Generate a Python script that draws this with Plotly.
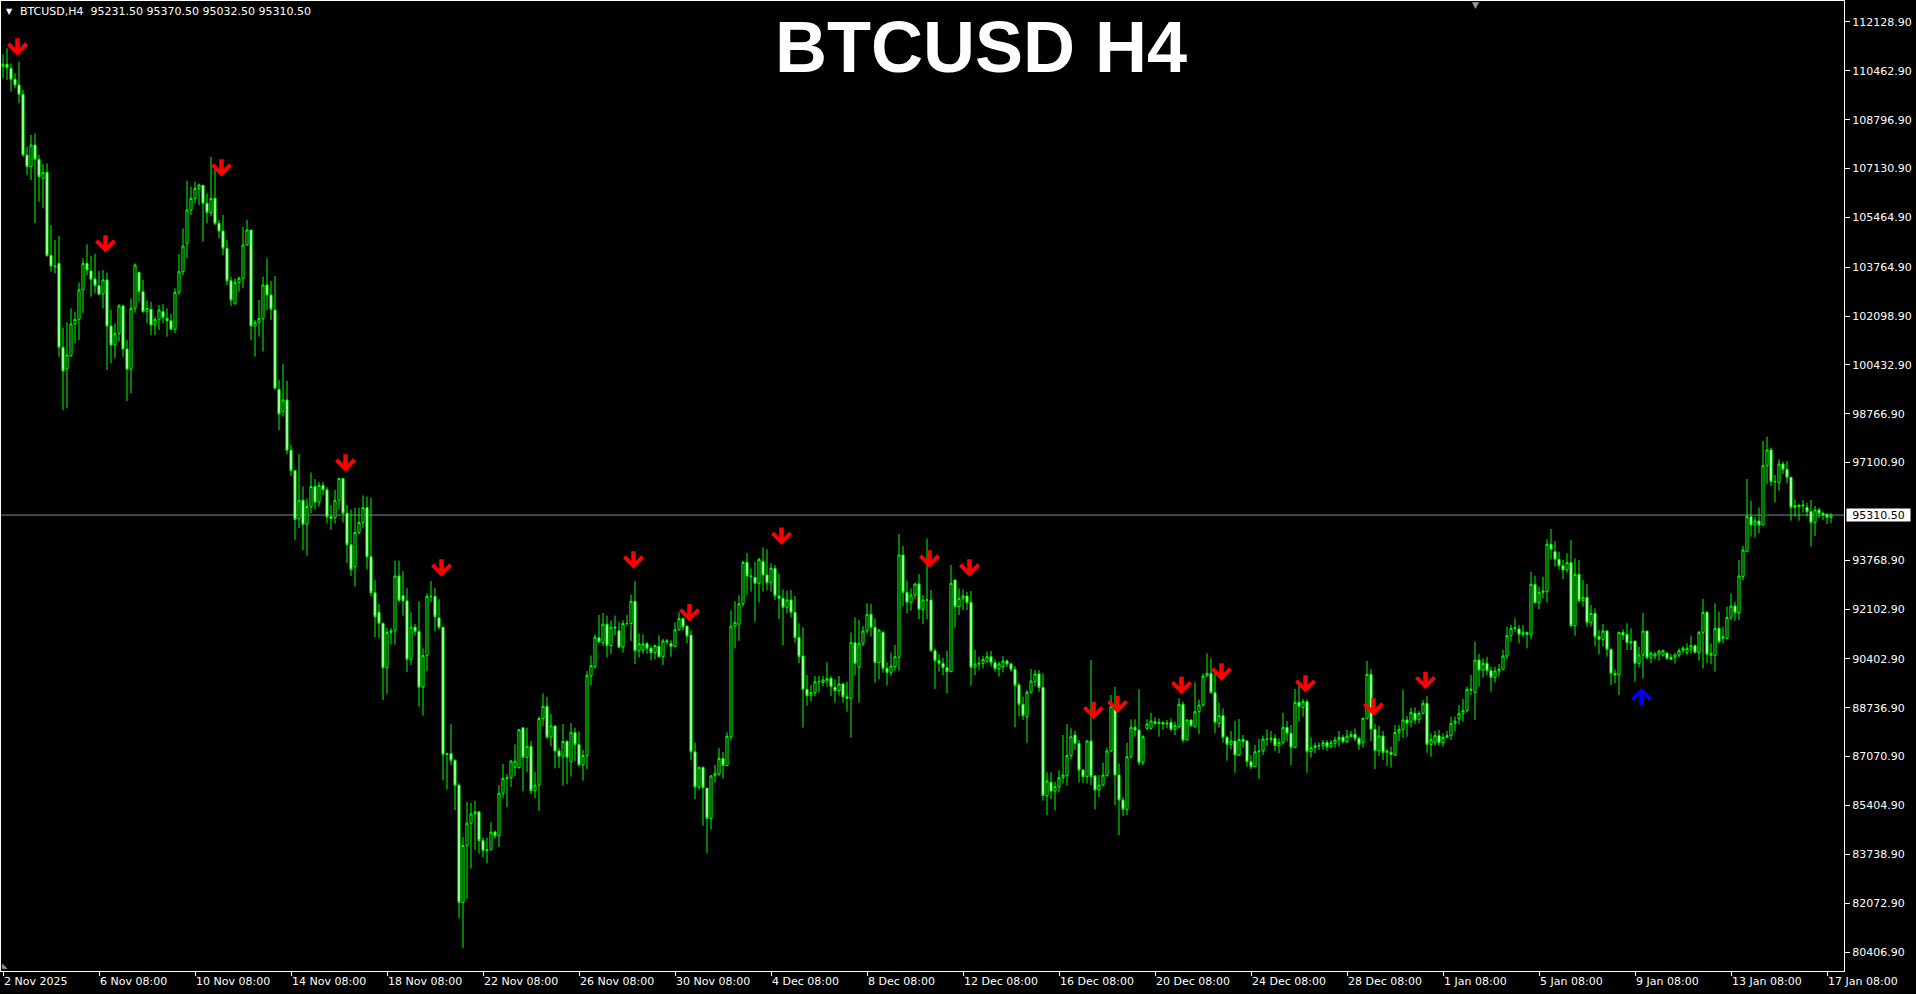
import plotly.graph_objects as go

# ---------------- data (H4 bars, 2 Nov 2025 08:00 -> 17 Jan 2026 12:00) ----------------
OPEN = [
    110605,110685,110548,110173,109980,109662,107592,107194,107934,107445,
    106796,107001,104170,103806,103897,101032,100316,100748,101828,101987,
    102988,103897,103636,103363,103135,102851,103329,101759,101111,101509,
    102442,100975,100282,102362,103590,102930,102248,102328,101794,101987,
    102248,102021,101941,101646,102908,103613,104579,105716,106114,106455,
    106558,105944,105626,106114,105261,105000,104409,103306,102533,103249,
    103386,104522,105034,101759,101885,102021,103158,102817,102305,99599,
    98837,99235,97520,96826,95186,95817,94996,95602,96284,95754,
    96322,96170,95249,95224,95817,96561,95375,94302,93545,94719,
    95059,95564,93886,92661,91993,91614,90100,91311,91362,93230,
    92560,92384,90390,91488,91337,89443,90516,92535,92535,91803,
    91488,87147,87172,86945,86099,82098,84042,84800,85115,85190,
    84206,83866,83890,84496,84370,85822,86326,86351,86706,86694,
    88055,87046,87424,85910,86099,88371,88787,87740,88118,87260,
    87084,87588,86894,87891,87487,86793,87109,89822,90137,91122,
    90958,91589,90857,91488,91362,90806,91614,91614,92371,90680,
    90705,90920,90768,90617,90832,90478,91021,90933,90832,91400,
    91778,91526,91210,87235,86036,86705,85998,84963,86414,86478,
    87008,86768,87740,91526,91589,92283,93697,93230,93186,92982,
    93721,93266,93004,93493,92550,92470,92163,92413,91993,91140,
    90503,89366,89150,89252,89627,89593,89650,89741,89434,89320,
    89548,89116,89059,90958,90117,90935,91356,91924,91481,90276,
    91310,90082,89946,90139,90458,93948,92675,92334,92584,92959,
    92095,92413,92413,90685,90344,90253,90105,89969,93095,92186,
    92447,92550,92334,90117,90230,90253,90310,90480,90276,90071,
    90139,90333,90230,90048,89514,88855,88434,89264,89628,89889,
    89434,85739,86194,85898,86046,86353,86421,87103,87808,87524,
    86615,86387,87604,86410,85932,86103,86421,87262,88741,86444,
    85591,85273,87069,88070,87979,86876,88036,88036,88263,88206,
    88240,88184,88240,88002,88093,88855,87638,88320,88093,88604,
    88832,89821,89912,89252,88206,88468,87729,87490,87604,87126,
    87660,87604,86899,86728,87240,87262,87672,87660,87695,87444,
    87558,88070,87865,87388,88923,88752,88946,87240,87376,87444,
    87444,87547,87410,87524,87638,87729,87581,87752,87831,87695,
    87547,88377,89878,88002,87274,87774,87217,87217,87126,87899,
    88002,88320,88263,88548,88343,88548,88889,87490,87547,87786,
    87547,87729,87786,88206,88354,88548,88639,89366,89264,90367,
    90026,90253,90003,89776,89992,90048,90503,91197,91447,91424,
    91242,91310,91242,92948,92322,92675,92697,94312,94062,93800,
    93584,93437,93687,91538,93289,92391,92504,91651,91958,91163,
    91072,91356,90730,89912,89855,91310,91242,90958,91015,90253,
    90537,91356,90446,90503,90571,90537,90594,90458,90458,90537,
    90685,90628,90730,90855,90628,91310,91992,90526,90526,91447,
    91106,91106,91822,92209,91981,93209,94062,95256,94972,95108,
    94972,96995,97530,96450,96427,97052,96870,96597,95574,95597,
    95654,95574,95427,95062,95483,95370,95336,95231.5,
]
HIGH = [
    111037,111231,110719,110378,110776,109809,107877,108274,108331,107592,
    107285,107308,105205,104693,104830,101703,101885,102362,102248,103249,
    104068,104545,104147,104215,103636,103670,103579,102305,101850,102510,
    102476,101282,102703,103897,103613,103329,102623,102589,102078,102476,
    102510,102362,102169,103044,104215,105091,106717,106512,106683,106626,
    106569,106285,107535,107081,105375,105546,104693,103442,103386,103442,
    105148,105375,105034,101964,102646,103442,104068,103306,103465,99918,
    100464,99883,97710,96826,97394,96284,95880,96763,96536,96440,
    96440,96258,95652,96170,96574,96574,95652,95501,95564,95564,
    95980,95943,95900,93103,92283,91652,91463,91463,93760,93760,
    93394,92813,91993,91600,92371,90768,92636,93065,92826,92434,
    91488,87172,88181,86983,86162,84332,85531,85493,85569,85190,
    84307,84307,84837,84547,86100,86818,86477,86950,87487,88017,
    88055,88055,87614,86540,88434,89229,89103,88522,88118,87361,
    88181,87651,88220,88055,87929,87298,89986,90516,91236,91904,
    91967,91879,91715,91879,91652,91715,91904,92598,93065,91273,
    91236,90983,90857,90895,91210,91084,91084,91046,91652,91993,
    91816,91526,91374,87550,86730,86730,85998,86440,86793,87361,
    87235,87904,92068,92371,92573,93750,94012,93493,93721,93850,
    94210,94141,93664,93607,93300,92777,92732,92754,92550,91617,
    91481,89855,89514,89821,89821,89821,90287,89821,89707,89821,
    89593,89628,91310,91822,91731,91526,92300,92277,91788,91420,
    91350,90287,90617,90878,94664,94255,93073,92811,93004,93300,
    92584,94517,92754,90764,90560,90446,90674,93607,93118,92811,
    92777,92697,92720,90708,90480,90503,90651,90674,90389,90310,
    90503,90389,90276,90162,89594,89116,89343,90060,90025,90025,
    89912,86535,86535,86217,86615,87808,88184,88036,87956,87638,
    86637,87638,90367,86444,86444,86865,87376,89173,89457,86842,
    85682,87547,88343,88343,89366,87800,88343,88570,88411,88377,
    88263,88320,88377,88263,89059,88946,88343,88340,89605,89025,
    89912,90594,90424,89912,88923,88718,87774,87945,88286,88354,
    87808,87638,87126,87467,87672,87786,88002,87945,87831,87695,
    88570,88286,88150,89377,89514,89036,89025,87729,87547,87547,
    87638,87638,87638,87752,87945,87808,87979,87945,88036,87752,
    88411,90332,90060,88184,88116,87945,87320,87410,88150,88150,
    89343,88456,88741,88752,88639,89002,89139,87865,87945,87979,
    87865,87945,88434,88434,88832,89036,89457,89855,90992,90571,
    90424,90480,90139,90139,90230,90708,91504,91561,91788,91561,
    91561,91310,93380,93243,92868,93209,94483,94835,94426,94062,
    93778,94005,94460,93834,93778,93095,92959,92243,92129,91390,
    91595,91390,90764,90048,91333,91413,91617,91447,91015,90822,
    91981,91356,90651,90651,90708,90730,90651,90571,90617,90764,
    90844,90935,91197,90901,91356,92447,92038,90935,92300,92015,
    91504,92186,92641,92357,93778,94255,96541,95802,95256,95574,
    97837,97985,97609,96677,97211,97132,97155,96620,95847,95654,
    95824,95733,95824,95620,95563,95427,95370,95370.5,
]
LOW = [
    110207,110151,109753,109866,109355,107535,106910,106740,105261,106000,
    105773,104125,103613,103556,100714,98894,98951,100714,101168,101282,
    102192,103499,102760,102874,102817,102362,100259,100486,100657,101225,
    100714,99201,99463,102214,102589,102214,101850,101452,101452,101623,
    101850,101396,101623,101509,102817,103499,104068,105546,105944,105887,
    104636,105261,105500,105205,104750,104181,103158,102442,102476,102931,
    103044,104488,101282,100714,101396,100884,102305,101964,99599,98212,
    98667,97394,96637,94466,94870,94113,93924,95375,95501,95600,
    95990,95022,94807,95022,95501,95060,93671,93230,92876,94650,
    94870,93457,92535,91147,91110,89002,89216,90895,90895,92346,
    91879,89948,90201,91200,88775,88472,89986,92346,91337,91400,
    86263,85948,86793,85241,81555,80547,82225,83260,83891,83764,
    83638,83430,83890,84270,83992,85670,85342,86036,86414,86667,
    85884,86540,85784,85658,85216,88118,87677,87424,86667,86692,
    86074,86130,86390,86919,86730,86251,86641,89506,90075,90958,
    90832,90453,90580,91210,90768,90617,91526,91021,90226,90453,
    90579,90579,90352,90390,90453,90201,90895,90478,90800,91380,
    91375,90932,86957,85620,85935,84710,83790,84584,86188,86414,
    86314,86755,87614,90768,91021,92195,92598,92698,91674,92322,
    92698,92754,92698,92413,91765,90878,91958,91822,90958,90253,
    88059,88809,88945,89139,89252,89480,89457,89139,88912,89150,
    88912,88604,87717,89844,88912,90844,91276,91163,89594,89707,
    89935,89491,89821,90003,90003,92209,91959,92049,92436,91765,
    91583,91765,90651,89377,89969,89855,89230,89946,91470,91902,
    92072,92072,89491,89855,90025,90082,90290,90139,89969,89798,
    89946,90139,89969,88070,88434,88320,87547,89230,89480,89287,
    85568,85080,85625,85228,85853,86160,86080,86978,87297,86182,
    86182,86160,86103,85273,85682,86046,86387,87240,85421,84397,
    85046,85080,87000,87751,86785,86785,87979,88002,88150,87751,
    87979,88036,87956,87808,88036,87547,87615,88093,88070,87843,
    88775,89798,89230,87865,88059,87547,86933,87320,86524,87092,
    87376,86728,86649,86728,86308,87126,87433,87547,87262,87183,
    87490,87581,86785,87354,88263,88434,86524,87036,87183,87297,
    87320,87274,87376,87376,87410,87524,87524,87752,87604,87297,
    87376,88343,87604,86649,87092,86956,86751,86694,87092,87604,
    87717,87752,88070,88184,88206,88513,87206,87069,87444,87433,
    87410,87695,87638,87922,88172,88263,88582,89173,88320,89457,
    89764,89855,89287,89594,89798,90026,90389,90992,91333,90935,
    91163,90765,91072,92300,92095,92470,92322,93800,93550,93459,
    93118,93346,91470,91197,92322,92186,91504,91504,90844,90560,
    90822,90480,89514,89571,89173,91049,90708,90708,89628,90117,
    89741,90389,90253,90389,90344,90480,90367,90367,90253,90458,
    90594,90537,90594,90594,90344,90082,90253,90219,89969,90935,
    90935,91072,91731,91708,91731,93096,94062,94574,94551,94688,
    94972,96370,96302,95745,96142,96711,96393,95120,95256,95120,
    95392,95256,94233,94597,95199,95142,95005,95032.5,
]
CLOSE = [
    110690,110571,110173,109980,109662,107592,107194,107934,107445,106853,
    107001,104159,103806,103783,101032,100225,100770,101828,101987,102988,
    103897,103670,103351,103135,102840,103329,101759,101111,101509,102442,
    100975,100282,102362,103840,102930,102248,102362,101794,101987,102305,
    102055,101941,101646,102908,103613,104488,105716,106114,106455,106569,
    105944,105626,106114,105261,105000,104409,103306,102646,103249,103386,
    104522,105034,101759,101885,102021,103158,102817,102328,99633,98758,
    99235,97520,96826,95160,95817,94996,95602,96284,95754,96322,
    96170,95249,95190,95817,96561,95375,94302,93457,94719,95059,
    95564,93886,92661,91841,91614,90100,91311,91362,93230,92409,
    92384,90390,91488,91337,89443,90516,92535,92535,91841,91488,
    87147,87172,86945,86099,82098,84042,84800,85115,85190,84206,
    83866,83890,84496,84370,85822,86326,86351,86919,86919,87992,
    87046,87424,85910,86099,88371,88787,87740,88118,87260,87084,
    87588,87046,87904,87487,86793,87109,89847,90175,91147,90983,
    91589,90857,91488,91463,90806,91614,91614,92371,90680,90920,
    90920,90768,90617,90857,90478,91021,90983,90832,91400,91778,
    91500,91185,87235,86036,86705,86011,84963,86414,86503,87008,
    86768,87765,91526,91652,92283,93697,93230,93209,92982,93800,
    93266,93004,93493,92561,92470,92163,92413,91993,91128,90480,
    89366,89150,89252,89627,89627,89684,89741,89457,89320,89548,
    89116,89059,90958,90253,90935,91356,91924,91481,90276,91390,
    90082,89946,90162,90480,93948,92675,92334,92584,92959,92095,
    92413,92413,90685,90344,90253,90105,89969,92982,92186,92470,
    92550,92322,90117,90230,90253,90389,90480,90276,90071,90230,
    90333,90230,90048,89503,88855,88468,89264,89650,89889,89434,
    85739,86239,85898,86046,86353,86444,87103,87751,87524,86615,
    86387,87604,86387,85932,86103,86444,87262,88775,86444,85591,
    85273,87069,88070,87979,86876,87751,88184,88286,88206,88240,
    88184,88206,88002,88127,88855,87638,88320,88127,88604,88832,
    89821,89912,89252,88240,88468,87729,87490,87604,87126,87660,
    87581,86899,86728,87240,87262,87672,87660,87695,87444,87558,
    88070,87865,87388,88923,88775,88946,87240,87376,87444,87444,
    87547,87410,87547,87638,87729,87581,87774,87831,87695,87490,
    88377,89878,88002,87274,87774,87217,87262,87149,87899,88002,
    88320,88206,88582,88320,88548,88889,87490,87660,87786,87547,
    87729,87786,88206,88286,88548,88639,89366,89343,90367,90026,
    90253,90003,89776,89992,90048,90503,91197,91447,91470,91242,
    91310,91242,92948,92322,92675,92720,94312,94141,93800,93584,
    93437,93687,91538,93289,92391,92504,91651,91958,91163,91072,
    91356,90730,89912,89855,91310,91220,90958,90992,90253,90537,
    91356,90446,90594,90571,90674,90685,90424,90389,90537,90685,
    90764,90764,90855,90628,91310,91992,90560,90594,91447,90992,
    91163,91822,92209,91981,93232,94119,95256,94972,95108,94972,
    96995,97530,96450,96450,97052,96870,96597,95574,95631,95654,
    95631,95427,95062,95483,95370,95313,95231,95310.5,
]
BARS = list(range(len(CLOSE)))

X_TICK_BARS = [0, 24, 48, 72, 96, 120, 144, 168, 192, 216, 240, 264, 288, 312, 336, 360, 384, 408, 432, 456]
X_TICK_LABELS = ["2 Nov 2025", "6 Nov 08:00", "10 Nov 08:00", "14 Nov 08:00", "18 Nov 08:00",
                 "22 Nov 08:00", "26 Nov 08:00", "30 Nov 08:00", "4 Dec 08:00", "8 Dec 08:00",
                 "12 Dec 08:00", "16 Dec 08:00", "20 Dec 08:00", "24 Dec 08:00", "28 Dec 08:00",
                 "1 Jan 08:00", "5 Jan 08:00", "9 Jan 08:00", "13 Jan 08:00", "17 Jan 08:00"]
Y_TICKS = [112128.90, 110462.90, 108796.90, 107130.90, 105464.90, 103764.90, 102098.90,
           100432.90, 98766.90, 97100.90, 93768.90, 92102.90, 90402.90, 88736.90,
           87070.90, 85404.90, 83738.90, 82072.90, 80406.90]
Y_LABELS = ["%.2f" % v for v in Y_TICKS]

DOWN_ARROW_BARS = [3, 25, 54, 85, 109, 157, 171, 194, 231, 241, 272, 278, 294, 304, 325, 342, 355]
DOWN_ARROW_PRICES = [110979, 104260, 106852, 96790, 93205, 93481, 91677, 94290, 93515, 93208,
                     88344, 88549, 89197, 89661, 89251, 88467, 89367]
UP_ARROW_BARS = [409]
UP_ARROW_PRICES = [89421]

SYMBOL = "BTCUSD"
TIMEFRAME = "H4"
LAST_PRICE = 95310.50
HEADER_OHLC = [95231.50, 95370.50, 95032.50, 95310.50]

# ---------------- styling ----------------
W, H = 1916, 994
ML, MR, MT, MB = 1, 72, 1, 23
PX_PER_BAR = 4.0
PLOT_W = W - ML - MR
PLOT_H = H - MT - MB
X_RANGE = [-0.5, -0.5 + PLOT_W / PX_PER_BAR]
Y_RANGE = [79759, 112845]
GREEN = "#00ff00"
FONT = "DejaVu Sans"
ARROW_LEN = 19
ARROW_STYLE = dict(arrowhead=4, arrowsize=0.78, arrowwidth=4.5, standoff=0)


def py_to_paper(py):
    return 1 - (py - MT) / PLOT_H


fig = go.Figure()
fig.add_trace(go.Candlestick(
    x=BARS, open=OPEN, high=HIGH, low=LOW, close=CLOSE,
    increasing=dict(line=dict(color=GREEN, width=1), fillcolor="#000000"),
    decreasing=dict(line=dict(color=GREEN, width=1), fillcolor="#ffffff"),
    whiskerwidth=0, hoverinfo="skip", showlegend=False,
))

annotations = []
# x-axis labels (left aligned at tick like MT4)
for b, t in zip(X_TICK_BARS, X_TICK_LABELS):
    annotations.append(dict(x=b, y=0, xref="x", yref="paper", text=t, showarrow=False,
                            xanchor="left", yanchor="top", xshift=0, yshift=-3, borderpad=0,
                            font=dict(family=FONT, size=11, color="#ffffff")))
# arrows
for b, p in zip(DOWN_ARROW_BARS, DOWN_ARROW_PRICES):
    annotations.append(dict(x=b, y=p, xref="x", yref="y", text="", showarrow=True,
                            ax=0, ay=-ARROW_LEN, axref="pixel", ayref="pixel", xshift=2.5,
                            arrowcolor="#ff0000", **ARROW_STYLE))
for b, p in zip(UP_ARROW_BARS, UP_ARROW_PRICES):
    annotations.append(dict(x=b, y=p, xref="x", yref="y", text="", showarrow=True,
                            ax=0, ay=ARROW_LEN, axref="pixel", ayref="pixel", xshift=2.5,
                            arrowcolor="#0000ff", **ARROW_STYLE))
# current price box
annotations.append(dict(x=1, y=LAST_PRICE, xref="paper", yref="y", text="%.2f" % LAST_PRICE,
                        showarrow=False, xanchor="left", yanchor="middle", xshift=2,
                        bgcolor="#ffffff", borderpad=0, width=63, height=12, align="center",
                        font=dict(family=FONT, size=11, color="#000000")))
# header
hdr = SYMBOL + "," + TIMEFRAME + "\u00a0\u00a0" + " ".join("%.2f" % v for v in HEADER_OHLC)
annotations.append(dict(x=0, y=1, xref="paper", yref="paper", text=hdr, showarrow=False,
                        xanchor="left", yanchor="top", xshift=18, yshift=-3, borderpad=0,
                        font=dict(family=FONT, size=11, color="#ffffff")))
annotations.append(dict(x=0, y=1, xref="paper", yref="paper", text="\u25bc", showarrow=False,
                        xanchor="left", yanchor="top", xshift=4, yshift=-5, borderpad=0,
                        font=dict(family=FONT, size=8, color="#ffffff")))
# big title
annotations.append(dict(x=(981 - ML) / PLOT_W, y=py_to_paper(47), xref="paper", yref="paper",
                        text="<b>%s %s</b>" % (SYMBOL, TIMEFRAME), showarrow=False,
                        xanchor="center", yanchor="middle",
                        font=dict(family="Liberation Sans", size=72, color="#ffffff")))
# small chart-shift markers
annotations.append(dict(x=(1475 - ML) / PLOT_W, y=1, xref="paper", yref="paper", text="\u25bc",
                        showarrow=False, xanchor="center", yanchor="top", yshift=2, borderpad=0,
                        font=dict(family=FONT, size=9, color="#9a9a9a")))
annotations.append(dict(x=0, y=0, xref="paper", yref="paper", text="\u25e3",
                        showarrow=False, xanchor="left", yanchor="bottom", xshift=0, yshift=0,
                        borderpad=0, font=dict(family=FONT, size=7, color="#9a9a9a")))

fig.update_layout(
    width=W, height=H, autosize=False,
    margin=dict(l=ML, r=MR, t=MT, b=MB, pad=0),
    paper_bgcolor="#000000", plot_bgcolor="#000000",
    showlegend=False, boxgap=0.25,
    annotations=annotations,
    shapes=[dict(type="line", xref="paper", yref="y", x0=0, x1=1, y0=LAST_PRICE, y1=LAST_PRICE,
                 line=dict(color="#778899", width=1), layer="below")],
    xaxis=dict(range=X_RANGE, showgrid=False, zeroline=False, showline=True, mirror=True,
               linecolor="#ffffff", linewidth=1, ticks="outside", ticklen=4, tickcolor="#ffffff",
               tickvals=X_TICK_BARS, showticklabels=False, rangeslider=dict(visible=False),
               fixedrange=True),
    yaxis=dict(range=Y_RANGE, side="right", showgrid=False, zeroline=False, showline=True,
               mirror=True, linecolor="#ffffff", linewidth=1, ticks="outside", ticklen=5,
               tickcolor="#ffffff", tickvals=Y_TICKS, ticktext=Y_LABELS,
               tickfont=dict(family=FONT, size=11, color="#ffffff"), fixedrange=True),
)

fig.write_html("out.html", config={"displayModeBar": False, "staticPlot": True},
               post_script="document.body.style.margin='0px';document.body.style.overflow='hidden';")
